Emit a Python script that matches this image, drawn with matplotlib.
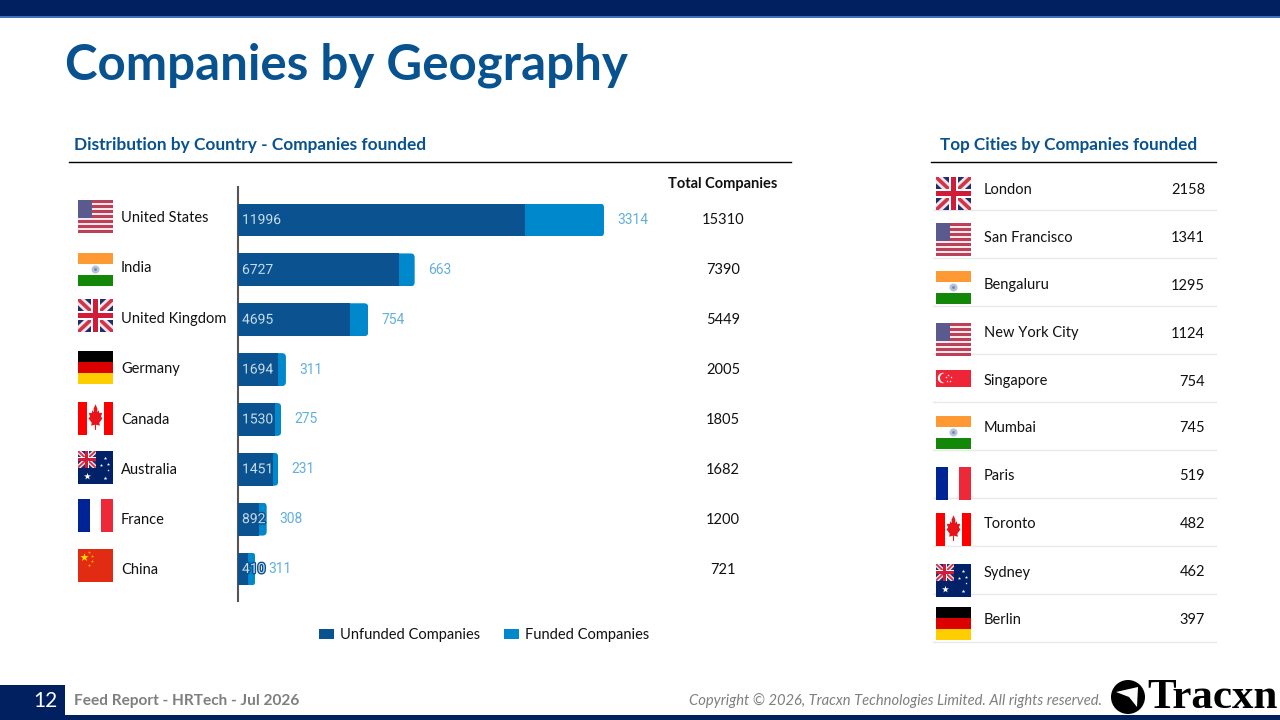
import numpy as np
import matplotlib
matplotlib.use("Agg")
import matplotlib.pyplot as plt
import matplotlib.patheffects as pe
from matplotlib.patches import Rectangle, Circle, Polygon, FancyBboxPatch, Patch

countries = ["United States", "India", "United Kingdom", "Germany", "Canada", "Australia", "France", "China"]
unfunded = [11996, 6727, 4695, 1694, 1530, 1451, 892, 410]
funded = [3314, 663, 754, 311, 275, 231, 308, 311]
totals = [15310, 7390, 5449, 2005, 1805, 1682, 1200, 721]
country_flags = ["us", "in", "uk", "de", "ca", "au", "fr", "cn"]

cities = ["London", "San Francisco", "Bengaluru", "New York City", "Singapore", "Mumbai", "Paris", "Toronto", "Sydney", "Berlin"]
city_counts = [2158, 1341, 1295, 1124, 754, 745, 519, 482, 462, 397]
city_flags = ["uk", "us", "in", "us", "sg", "in", "fr", "ca", "au", "de"]

NAVY = "#002060"
DARK = "#0A5390"
LIGHT = "#0088CC"
TITLE = "#07528F"

plt.rcParams["font.family"] = ["Lato", "DejaVu Sans"]
fig = plt.figure(figsize=(12.8, 7.2), dpi=100)

# overlay in pixel coords for everything that is not the bars
pg = fig.add_axes([0, 0, 1, 1])
pg.set_xlim(0, 1280)
pg.set_ylim(720, 0)
pg.axis("off")


def rect(x, y, w, h, c, z=2, clip=None):
    r = Rectangle((x, y), w, h, fc=c, ec="none", zorder=z)
    pg.add_patch(r)
    if clip is not None:
        r.set_clip_path(clip)
    return r


def union_jack(x, y, w, h, z=3):
    box = rect(x, y, w, h, "#1F2F6E", z)
    for a, b, c, d in [(x, y, x + w, y + h), (x, y + h, x + w, y)]:
        l1, = pg.plot([a, c], [b, d], color="#F6E4E8", lw=h * 0.2, zorder=z + 1, solid_capstyle="butt")
        l2, = pg.plot([a, c], [b, d], color="#D0344A", lw=h * 0.08, zorder=z + 2, solid_capstyle="butt")
        l1.set_clip_path(box)
        l2.set_clip_path(box)
    rect(x + w * 0.38, y, w * 0.24, h, "white", z + 3)
    rect(x, y + h * 0.37, w, h * 0.26, "white", z + 3)
    rect(x + w * 0.415, y, w * 0.17, h, "#D01C38", z + 4)
    rect(x, y + h * 0.41, w, h * 0.18, "#D01C38", z + 4)


def maple(x, y, w, h, c="#E8141C", z=4):
    pts = [(0, 1), (.28, .62), (.22, .35), (.5, .5), (.5, .28), (.95, .28), (.78, -.05), (1, -.18),
           (.55, -.55), (.62, -.8), (.08, -.72), (.08, -1.15), (-.08, -1.15), (-.08, -.72),
           (-.62, -.8), (-.55, -.55), (-1, -.18), (-.78, -.05), (-.95, .28), (-.5, .28), (-.5, .5),
           (-.22, .35), (-.28, .62)]
    pts = [(x + px * w, y - py * h) for px, py in pts]
    pg.add_patch(Polygon(pts, closed=True, fc=c, ec="none", zorder=z))


def flag(kind, x, y, w=35, h=33):
    if kind == "us":
        n = 13
        for i in range(n):
            rect(x, y + i * h / n, w, h / n + 0.1, "#BC4058" if i % 2 == 0 else "#F6E8EA")
        rect(x, y, w * 0.4, h * 7 / 13, "#5A5A8E", 3)
    elif kind == "in":
        rect(x, y, w, h / 3, "#FF9933")
        rect(x, y + 2 * h / 3, w, h / 3, "#138808")
        pg.add_patch(Circle((x + w / 2, y + h / 2), 4, fc="#B4C3DC", ec="none", zorder=3))
        pg.add_patch(Circle((x + w / 2, y + h / 2), 1.4, fc="#6F86B4", ec="none", zorder=4))
    elif kind == "uk":
        union_jack(x, y, w, h)
    elif kind == "de":
        rect(x, y, w, h / 3, "#000000")
        rect(x, y + h / 3, w, h / 3, "#DD0000")
        rect(x, y + 2 * h / 3, w, h / 3, "#FFCE00")
    elif kind == "ca":
        rect(x, y, w * 0.26, h, "#FF0000")
        rect(x + w * 0.74, y, w * 0.26, h, "#FF0000")
        maple(x + w / 2, y + h * 0.43, w * 0.2, h * 0.36)
    elif kind == "fr":
        rect(x, y, w / 3, h, "#002395")
        rect(x + 2 * w / 3, y, w / 3, h, "#ED2939")
    elif kind == "au":
        rect(x, y, w, h, "#012169")
        union_jack(x, y, w / 2, h / 2)
        for px, py, s in [(.76, .2, 7), (.65, .42, 6), (.87, .38, 6), (.76, .82, 8), (.25, .75, 28), (.85, .58, 3)]:
            pg.scatter(x + px * w, y + py * h, s=s, marker="*", color="white", lw=0, zorder=5)
    elif kind == "cn":
        rect(x, y, w, h, "#E12B12")
        pg.scatter(x + 0.16 * w, y + 0.25 * h, s=40, marker="*", color="#FFDE00", lw=0, zorder=4)
        for px, py in [(.32, .1), (.4, .2), (.4, .35), (.32, .47)]:
            pg.scatter(x + px * w, y + py * h, s=6, marker="*", color="#F5A800", lw=0, zorder=4)
    elif kind == "sg":
        rect(x, y, w, h / 2, "#EE2536")
        pg.add_patch(Circle((x + 7, y + 8), 5.2, fc="white", ec="none", zorder=3))
        pg.add_patch(Circle((x + 9, y + 8), 5, fc="#EE2536", ec="none", zorder=4))
        for px, py in [(12, 5), (15, 7), (14, 11), (10.5, 11), (9.5, 7)]:
            pg.scatter(x + px, y + py, s=3, marker="*", color="white", lw=0, zorder=5)


# header and footer bands
rect(0, 0, 1280, 16, NAVY)
rect(0, 16, 1280, 1.5, "#3F6FC0")
rect(0, 714.5, 1280, 5.5, NAVY)
rect(0, 685, 65, 30, NAVY)

pg.text(65, 65.5, "Companies by Geography", fontsize=35.5, fontweight="bold", color=TITLE, va="center")
pg.text(74, 145, "Distribution by Country - Companies founded", fontsize=12.4, fontweight="bold", color=TITLE, va="center")
pg.text(940, 145, "Top Cities by Companies founded", fontsize=12.3, fontweight="bold", color=TITLE, va="center")
pg.plot([69, 791], [162, 162], color="black", lw=1)
pg.plot([931, 1216], [162, 162], color="black", lw=1)
pg.text(723, 184, "Total Companies", fontsize=10.5, fontweight="bold", color="#111111", ha="center", va="center")

# left table
flag_y = [200, 253, 299, 351, 402, 451, 499, 549]
name_y = [218.5, 268.5, 318.5, 369.5, 419.5, 469.5, 519.5, 569.5]
total_y = [220.5, 270.5, 320.5, 370.5, 420.5, 470.5, 519.5, 569.5]
for i, name in enumerate(countries):
    flag(country_flags[i], 78, flag_y[i])
    pg.text(121, name_y[i], name, fontsize=10.5, color="#111111", va="center")
    pg.text(723, total_y[i], str(totals[i]), fontsize=10.5, color="#111111", ha="center", va="center")

# right table
city_flag_y = [177, 223, 271, 323, 370, 416, 467, 513, 564, 607]
city_y = [189.5, 237.5, 285.5, 333.5, 381.5, 428.5, 476.5, 524.5, 572.5, 620.5]
line_y = [210, 258, 306, 354, 402, 450, 498, 546, 594, 642]
for i, name in enumerate(cities):
    pg.plot([933, 1216], [line_y[i], line_y[i]], color="#E8E8E8", lw=1, zorder=1)
    flag(city_flags[i], 936, city_flag_y[i])
    pg.text(983.5, city_y[i], name, fontsize=10.5, color="#111111", va="center")
    pg.text(1205, city_y[i], str(city_counts[i]), fontsize=10.5, color="#111111", ha="right", va="center")

# bars
scale = 366.0 / 15310
ax = fig.add_axes([238 / 1280, 1 - 601 / 720, 500 / 1280, 414 / 720])
ax.patch.set_alpha(0)
ax.set_xlim(0, 500 / scale)
ax.set_ylim(7.642, -0.662)
for s in ["top", "right", "bottom"]:
    ax.spines[s].set_visible(False)
ax.spines["left"].set_color("#555555")
ax.spines["left"].set_linewidth(1.5)
ax.set_xticks([])
ax.set_yticks([])

ypos = np.arange(len(countries))
bars1 = ax.barh(ypos, unfunded, height=0.66, color=DARK, zorder=3)
bars2 = ax.barh(ypos, funded, left=unfunded, height=0.66, color=LIGHT, zorder=2)

# rounded right end: clip each funded bar with a box running from the axis to its end
for b in list(bars2):
    x0, y0 = ax.transData.transform((0, b.get_y()))
    x1, y1 = ax.transData.transform((b.get_x() + b.get_width(), b.get_y() + b.get_height()))
    lo, hi = min(y0, y1), max(y0, y1)
    clip = FancyBboxPatch((x0 + 4, lo + 4), x1 - x0 - 8, hi - lo - 8, boxstyle="round,pad=4,rounding_size=4",
                          transform=None)
    b.set_clip_path(clip)

for i in range(len(countries)):
    ax.annotate(str(unfunded[i]), (0, ypos[i]), xytext=(4, 0), textcoords="offset pixels", fontsize=10,
                family="Roboto", color="#C8DCEC", va="center", zorder=5, clip_on=False,
                path_effects=[pe.withStroke(linewidth=2, foreground=DARK)])
    ax.annotate(str(funded[i]), (unfunded[i] + funded[i], ypos[i]), xytext=(13, 0), textcoords="offset pixels",
                fontsize=10, family="Roboto", color="#62AFDE", va="center", zorder=4)

leg = fig.legend(handles=[Patch(fc=DARK, label="Unfunded Companies"), Patch(fc=LIGHT, label="Funded Companies")],
                 loc="center", bbox_to_anchor=(484 / 1280, 1 - 635 / 720), ncol=2, frameon=False, fontsize=10.5,
                 handlelength=1.05, handleheight=0.7, handletextpad=0.4, columnspacing=1.6, labelcolor="#111111")

# footer
pg.text(45, 701, "12", fontsize=15, color="white", ha="center", va="center")
pg.text(74, 701, "Feed Report - HRTech - Jul 2026", fontsize=11.1, fontweight="bold", color="#7F7F7F", va="center")
pg.text(1102, 701, "Copyright \u00a9 2026, Tracxn Technologies Limited. All rights reserved.", fontsize=10.6,
        style="italic", color="#7F7F7F", ha="right", va="center")

# logo
pg.add_patch(Circle((1128, 697), 17, fc="black", ec="none", zorder=3))
pg.add_patch(Polygon([(1116, 692), (1138, 687), (1137, 707), (1129, 697)], closed=True, fc="white", ec="none", zorder=4))
pg.text(1147, 698, "Tracxn", fontsize=31, fontweight="bold", family="Liberation Serif", color="black", va="center")

fig.savefig("out.png", dpi=100)
